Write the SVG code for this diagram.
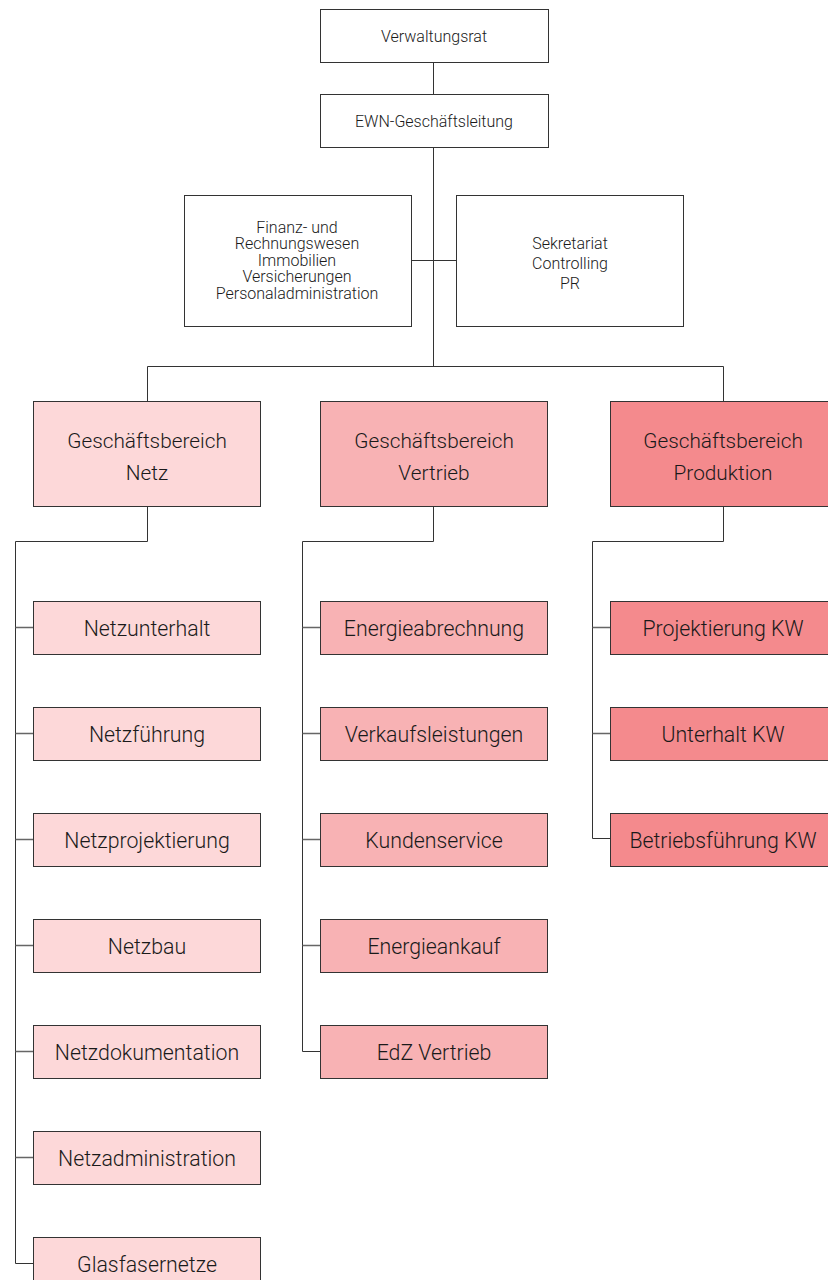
<svg xmlns="http://www.w3.org/2000/svg" width="828" height="1280" viewBox="0 0 828 1280">
<style>
.box{stroke:#333;stroke-width:1;}
.w{fill:#fff;}
.n{fill:#fdd8d9;}
.v{fill:#f8b2b4;}
.p{fill:#f48a8d;}
.t{font-family:Roboto,"Liberation Sans",sans-serif;font-weight:300;fill:#1a1a1a;text-anchor:middle;dominant-baseline:central;}
.s{font-size:16px;}
.m{font-size:20.8px;}
.l{font-size:21.3px;}
.c{fill:none;stroke:#333;stroke-width:1;}
.g{fill:none;stroke:#666;stroke-width:1.3;}
</style>
<rect width="828" height="1280" fill="#fff"/>
<g id="connectors">
<path class="c" d="M433.5 62V94M433.5 147V366M411 260.5H456M147.5 401V366.5H723.5V401"/>
<path class="c" d="M147.5 506V541.5H15.5V1263.5H33M433.5 506V541.5H302.5V1051.5H320M723.5 506V541.5H592.5V838.5H610"/>
<path class="g" d="M15.5 627.5H33M15.5 733.5H33M15.5 839.5H33M15.5 945.5H33M15.5 1051.5H33M15.5 1157.5H33"/>
<path class="g" d="M302.5 627.5H320M302.5 733.5H320M302.5 839.5H320M302.5 945.5H320"/>
<path class="g" d="M592.5 627.5H610M592.5 733.5H610"/>
</g>
<g id="verwaltungsrat"><rect class="box w" x="320.5" y="9.5" width="228" height="53"/><text class="t s" x="434" y="36">Verwaltungsrat</text></g>
<g id="geschaeftsleitung"><rect class="box w" x="320.5" y="94.5" width="228" height="53"/><text class="t s" x="434" y="121">EWN-Geschäftsleitung</text></g>
<g id="finanz"><rect class="box w" x="184.5" y="195.5" width="227" height="131"/>
<text class="t s" x="297" y="227">Finanz- und</text>
<text class="t s" x="297" y="243.5">Rechnungswesen</text>
<text class="t s" x="297" y="260">Immobilien</text>
<text class="t s" x="297" y="276.5">Versicherungen</text>
<text class="t s" x="297" y="293">Personaladministration</text></g>
<g id="sekretariat"><rect class="box w" x="456.5" y="195.5" width="227" height="131"/>
<text class="t s" x="570" y="243">Sekretariat</text>
<text class="t s" x="570" y="263">Controlling</text>
<text class="t s" x="570" y="283">PR</text></g>
<g id="gb-netz"><rect class="box n" x="33.5" y="401.5" width="227" height="105"/><text class="t m" x="147" y="441">Geschäftsbereich</text><text class="t m" x="147" y="473">Netz</text></g>
<g id="gb-vertrieb"><rect class="box v" x="320.5" y="401.5" width="227" height="105"/><text class="t m" x="434" y="441">Geschäftsbereich</text><text class="t m" x="434" y="473">Vertrieb</text></g>
<g id="gb-produktion"><rect class="box p" x="610.5" y="401.5" width="227" height="105"/><text class="t m" x="723" y="441">Geschäftsbereich</text><text class="t m" x="723" y="473">Produktion</text></g>
<g id="netzunterhalt"><rect class="box n" x="33.5" y="601.5" width="227" height="53"/><text class="t l" x="147" y="628">Netzunterhalt</text></g>
<g id="netzfuehrung"><rect class="box n" x="33.5" y="707.5" width="227" height="53"/><text class="t l" x="147" y="734">Netzführung</text></g>
<g id="netzprojektierung"><rect class="box n" x="33.5" y="813.5" width="227" height="53"/><text class="t l" x="147" y="840">Netzprojektierung</text></g>
<g id="netzbau"><rect class="box n" x="33.5" y="919.5" width="227" height="53"/><text class="t l" x="147" y="946">Netzbau</text></g>
<g id="netzdokumentation"><rect class="box n" x="33.5" y="1025.5" width="227" height="53"/><text class="t l" x="147" y="1052">Netzdokumentation</text></g>
<g id="netzadministration"><rect class="box n" x="33.5" y="1131.5" width="227" height="53"/><text class="t l" x="147" y="1158">Netzadministration</text></g>
<g id="glasfasernetze"><rect class="box n" x="33.5" y="1237.5" width="227" height="53"/><text class="t l" x="147" y="1264">Glasfasernetze</text></g>
<g id="energieabrechnung"><rect class="box v" x="320.5" y="601.5" width="227" height="53"/><text class="t l" x="434" y="628">Energieabrechnung</text></g>
<g id="verkaufsleistungen"><rect class="box v" x="320.5" y="707.5" width="227" height="53"/><text class="t l" x="434" y="734">Verkaufsleistungen</text></g>
<g id="kundenservice"><rect class="box v" x="320.5" y="813.5" width="227" height="53"/><text class="t l" x="434" y="840">Kundenservice</text></g>
<g id="energieankauf"><rect class="box v" x="320.5" y="919.5" width="227" height="53"/><text class="t l" x="434" y="946">Energieankauf</text></g>
<g id="edz-vertrieb"><rect class="box v" x="320.5" y="1025.5" width="227" height="53"/><text class="t l" x="434" y="1052">EdZ Vertrieb</text></g>
<g id="projektierung-kw"><rect class="box p" x="610.5" y="601.5" width="227" height="53"/><text class="t l" x="723" y="628">Projektierung KW</text></g>
<g id="unterhalt-kw"><rect class="box p" x="610.5" y="707.5" width="227" height="53"/><text class="t l" x="723" y="734">Unterhalt KW</text></g>
<g id="betriebsfuehrung-kw"><rect class="box p" x="610.5" y="813.5" width="227" height="53"/><text class="t l" x="723" y="840">Betriebsführung KW</text></g>
</svg>
